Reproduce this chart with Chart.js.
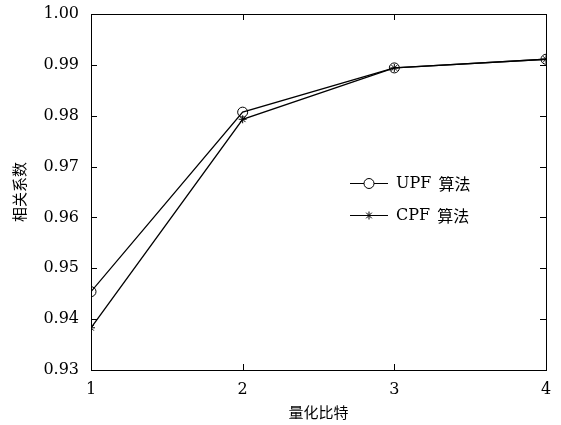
<!DOCTYPE html>
<html>
<head>
<meta charset="utf-8">
<script src="https://cdn.jsdelivr.net/npm/chart.js@4"></script>
<style>
  html, body { margin: 0; padding: 0; background: #fff; }
  #wrap { width: 561px; height: 425px; }
</style>
</head>
<body>
<div id="wrap"><canvas id="chart" width="561" height="425"></canvas></div>
<script>
// datos
const bits = [1, 2, 3, 4];
const upf = [0.9454, 0.9807, 0.9894, 0.9911];
const cpf = [0.9383, 0.9793, 0.9894, 0.9911];
const yTicks = [0.93, 0.94, 0.95, 0.96, 0.97, 0.98, 0.99, 1.00];
const seriesNames = ["UPF 算法", "CPF 算法"];
const xTitle = "量化比特";
const yTitle = "相关系数";

const serif = "'DejaVu Serif', 'Liberation Serif', serif";
const cjk = "'Noto Sans CJK SC', sans-serif";

// marcas hacia dentro y caja completa
const boxPlugin = {
    id: 'box',
    afterDraw(chart) {
        const { ctx, chartArea: a, scales } = chart;
        ctx.save();
        ctx.strokeStyle = '#000';
        ctx.lineWidth = 1;
        ctx.strokeRect(a.left + 0.5, a.top + 0.5, a.right - a.left, a.bottom - a.top);
        ctx.beginPath();
        yTicks.forEach(v => {
            const y = Math.round(scales.y.getPixelForValue(v)) + 0.5;
            ctx.moveTo(a.left, y); ctx.lineTo(a.left + 6, y);
            ctx.moveTo(a.right, y); ctx.lineTo(a.right - 6, y);
        });
        bits.forEach(v => {
            const x = Math.round(scales.x.getPixelForValue(v)) + 0.5;
            ctx.moveTo(x, a.bottom); ctx.lineTo(x, a.bottom - 6);
            ctx.moveTo(x, a.top); ctx.lineTo(x, a.top + 6);
        });
        ctx.stroke();

        // leyenda dentro del grafico
        const lx = 350, ly0 = 183, gap = 32;
        chart.data.datasets.forEach((ds, i) => {
            const y = ly0 + i * gap + 0.5;
            ctx.beginPath();
            ctx.moveTo(lx, y); ctx.lineTo(lx + 38, y);
            ctx.stroke();
            ctx.fillStyle = '#fff';
            Chart.helpers.drawPoint(ctx, {
                pointStyle: ds.pointStyle, radius: ds.pointRadius, borderWidth: 1
            }, lx + 19, y);
            ctx.fillStyle = '#000';
            ctx.textBaseline = 'middle';
            ctx.font = "16px " + serif;
            const parts = ds.label.split(' ');
            ctx.fillText(parts[0], lx + 46, y);
            const w = ctx.measureText(parts[0] + ' ').width;
            ctx.font = "16px " + cjk;
            ctx.fillText(parts[1], lx + 46 + w + 2, y);
        });
        ctx.restore();
    }
};

new Chart(document.getElementById('chart'), {
    type: 'line',
    data: {
        datasets: [{
            label: seriesNames[0],
            data: bits.map((b, i) => ({ x: b, y: upf[i] })),
            borderColor: '#000',
            backgroundColor: 'rgba(0,0,0,0)',
            borderWidth: 1.3,
            pointStyle: 'circle',
            pointRadius: 5,
            pointBorderColor: '#000',
            pointBackgroundColor: 'rgba(0,0,0,0)',
            pointBorderWidth: 1,
            tension: 0
        }, {
            label: seriesNames[1],
            data: bits.map((b, i) => ({ x: b, y: cpf[i] })),
            borderColor: '#000',
            backgroundColor: 'rgba(0,0,0,0)',
            borderWidth: 1.3,
            pointStyle: 'star',
            pointRadius: 4,
            pointBorderColor: '#000',
            pointBorderWidth: 1,
            tension: 0
        }]
    },
    options: {
        responsive: false,
        animation: false,
        layout: { padding: { top: 14, right: 15, left: 0, bottom: 0 } },
        plugins: {
            legend: { display: false },
            tooltip: { enabled: false }
        },
        scales: {
            x: {
                type: 'linear',
                min: 1, max: 4,
                afterFit: s => { s.height = 55; },
                afterBuildTicks: s => { s.ticks = bits.map(v => ({ value: v })); },
                grid: { display: false },
                border: { display: false },
                ticks: {
                    color: '#000', padding: 2,
                    font: { family: serif, size: 16 }
                },
                title: {
                    display: true, text: xTitle, color: '#000',
                    font: { family: cjk, size: 15 }, padding: { top: 0 }
                }
            },
            y: {
                min: 0.93, max: 1.00,
                afterFit: s => { s.width = 91; },
                afterBuildTicks: s => { s.ticks = yTicks.map(v => ({ value: v })); },
                grid: { display: false },
                border: { display: false },
                ticks: {
                    color: '#000', padding: 4,
                    font: { family: serif, size: 16 },
                    callback: v => v.toFixed(2)
                },
                title: {
                    display: true, text: yTitle, color: '#000',
                    font: { family: cjk, size: 15 }, padding: { top: 10, bottom: 4 }
                }
            }
        }
    },
    plugins: [boxPlugin]
});
</script>
</body>
</html>
